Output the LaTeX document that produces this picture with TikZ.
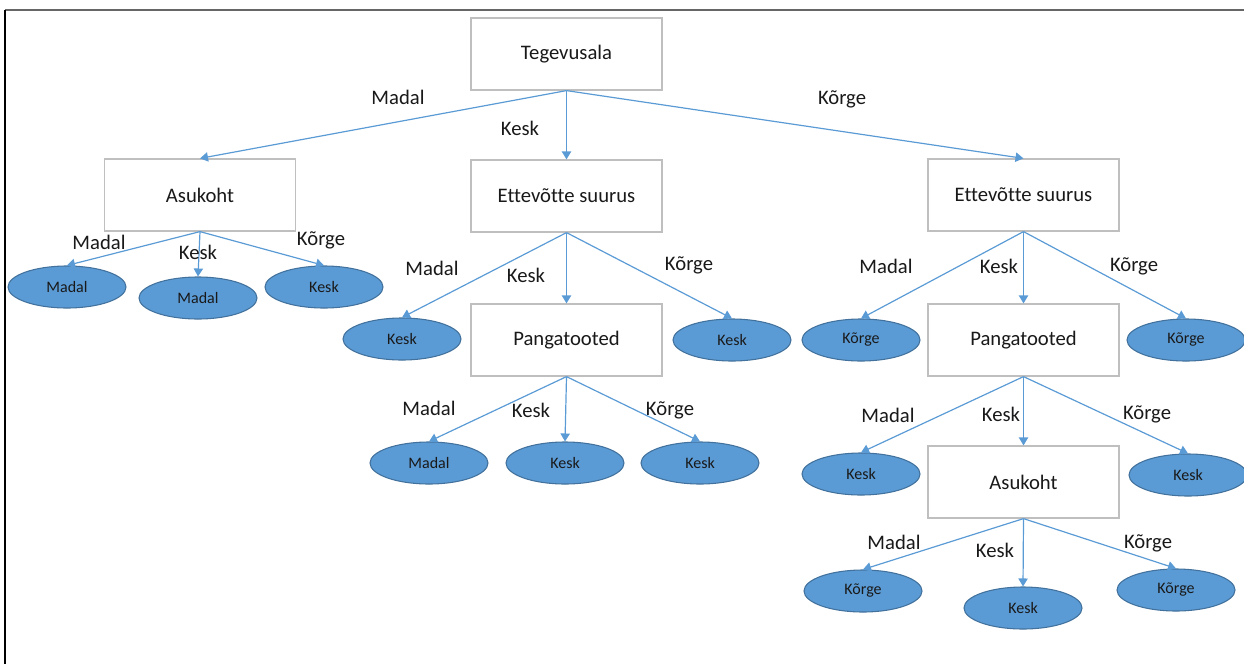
\documentclass[tikz,border=0pt]{standalone}
\usepackage{fontspec}
\setmainfont{Carlito}[Ligatures=NoCommon]
\usetikzlibrary{shapes.geometric,arrows.meta}
\definecolor{ellfill}{HTML}{5B9BD5}
\definecolor{elldraw}{HTML}{41719C}
\definecolor{arr}{HTML}{5B9BD5}
\definecolor{boxdraw}{HTML}{BFBFBF}
\begin{document}
\begin{tikzpicture}[x=0.75pt,y=-0.75pt,
  box/.style={draw=boxdraw,line width=0.9pt,fill=white,minimum width=143.25pt,minimum height=54pt,inner sep=0pt,font=\fontsize{15.5}{18}\selectfont,text=black!90},
  leaf/.style={ellipse,draw=elldraw,line width=0.8pt,fill=ellfill,minimum width=88.5pt,minimum height=31.5pt,inner sep=0pt,font=\fontsize{12}{14}\selectfont,text=black!90},
  lbl/.style={font=\fontsize{15.5}{18}\selectfont,text=black!90,inner sep=0pt},
  conn/.style={draw=arr,line width=0.9pt,-{Triangle[width=7pt,length=6pt]}}]
\useasboundingbox (0,0) rectangle (1244,664);
\draw[line width=1.5pt,draw=black!60] (5,10) -- (1244,10);
\draw[line width=1.5pt,draw=black] (5,10) -- (5,664);
% boxes
\node[box] (root) at (566.5,54) {Tegevusala};
\node[box] (asuL) at (200,195) {Asukoht};
\node[box] (ettM) at (566.5,196) {Ettevõtte suurus};
\node[box] (ettR) at (1023.5,195) {Ettevõtte suurus};
\node[box] (panM) at (566.5,340) {Pangatooted};
\node[box] (panR) at (1023.5,340) {Pangatooted};
\node[box] (asuR) at (1023.5,482) {Asukoht};
% leaves
\node[leaf] (l1) at (67,287) {Madal};
\node[leaf] (l2) at (198,298) {Madal};
\node[leaf] (l3) at (324,287) {Kesk};
\node[leaf] (m1) at (402,339) {Kesk};
\node[leaf] (m2) at (732,340) {Kesk};
\node[leaf] (n1) at (429,463) {Madal};
\node[leaf] (n2) at (565,463) {Kesk};
\node[leaf] (n3) at (700,463) {Kesk};
\node[leaf] (r1) at (861,340) {Kõrge};
\node[leaf] (r2) at (1186,340) {Kõrge};
\node[leaf] (s1) at (861,474) {Kesk};
\node[leaf] (s2) at (1188,475) {Kesk};
\node[leaf] (t1) at (863,591) {Kõrge};
\node[leaf] (t2) at (1023,608) {Kesk};
\node[leaf] (t3) at (1176,590) {Kõrge};
% connectors
\draw[conn] (root.south) -- (asuL.north);
\draw[conn] (root.south) -- (ettM.north);
\draw[conn] (root.south) -- (ettR.north);
\draw[conn] (asuL.south) -- (l1.north);
\draw[conn] (asuL.south) -- (l2.north);
\draw[conn] (asuL.south) -- (l3.north);
\draw[conn] (ettM.south) -- (m1.north);
\draw[conn] (ettM.south) -- (panM.north);
\draw[conn] (ettM.south) -- (m2.north);
\draw[conn] (panM.south) -- (n1.north);
\draw[conn] (panM.south) -- (n2.north);
\draw[conn] (panM.south) -- (n3.north);
\draw[conn] (ettR.south) -- (r1.north);
\draw[conn] (ettR.south) -- (panR.north);
\draw[conn] (ettR.south) -- (r2.north);
\draw[conn] (panR.south) -- (s1.north);
\draw[conn] (panR.south) -- (asuR.north);
\draw[conn] (panR.south) -- (s2.north);
\draw[conn] (asuR.south) -- (t1.north);
\draw[conn] (asuR.south) -- (t2.north);
\draw[conn] (asuR.south) -- (t3.north);
% labels
\node[lbl] (a1) at (398,97) {Madal};
\node[lbl] (a2) at (520,128) {Kesk};
\node[lbl] (a3) at (842,99) {Kõrge};
\node[lbl] (b1) at (99,242) {Madal};
\node[lbl] (b2) at (198,252) {Kesk};
\node[lbl] (b3) at (321,240) {Kõrge};
\node[lbl] (c1) at (432,268) {Madal};
\node[lbl] (c2) at (526,275) {Kesk};
\node[lbl] (c3) at (689,265) {Kõrge};
\node[lbl] (d1) at (429,408) {Madal};
\node[lbl] (d2) at (531,410) {Kesk};
\node[lbl] (d3) at (670,410) {Kõrge};
\node[lbl] (e1) at (886,266) {Madal};
\node[lbl] (e2) at (999,266) {Kesk};
\node[lbl] (e3) at (1134,266) {Kõrge};
\node[lbl] (f1) at (888,415) {Madal};
\node[lbl] (f2) at (1001,414) {Kesk};
\node[lbl] (f3) at (1147,414) {Kõrge};
\node[lbl] (g1) at (894,542) {Madal};
\node[lbl] (g2) at (995,550) {Kesk};
\node[lbl] (g3) at (1148,543) {Kõrge};
\end{tikzpicture}
\end{document}
